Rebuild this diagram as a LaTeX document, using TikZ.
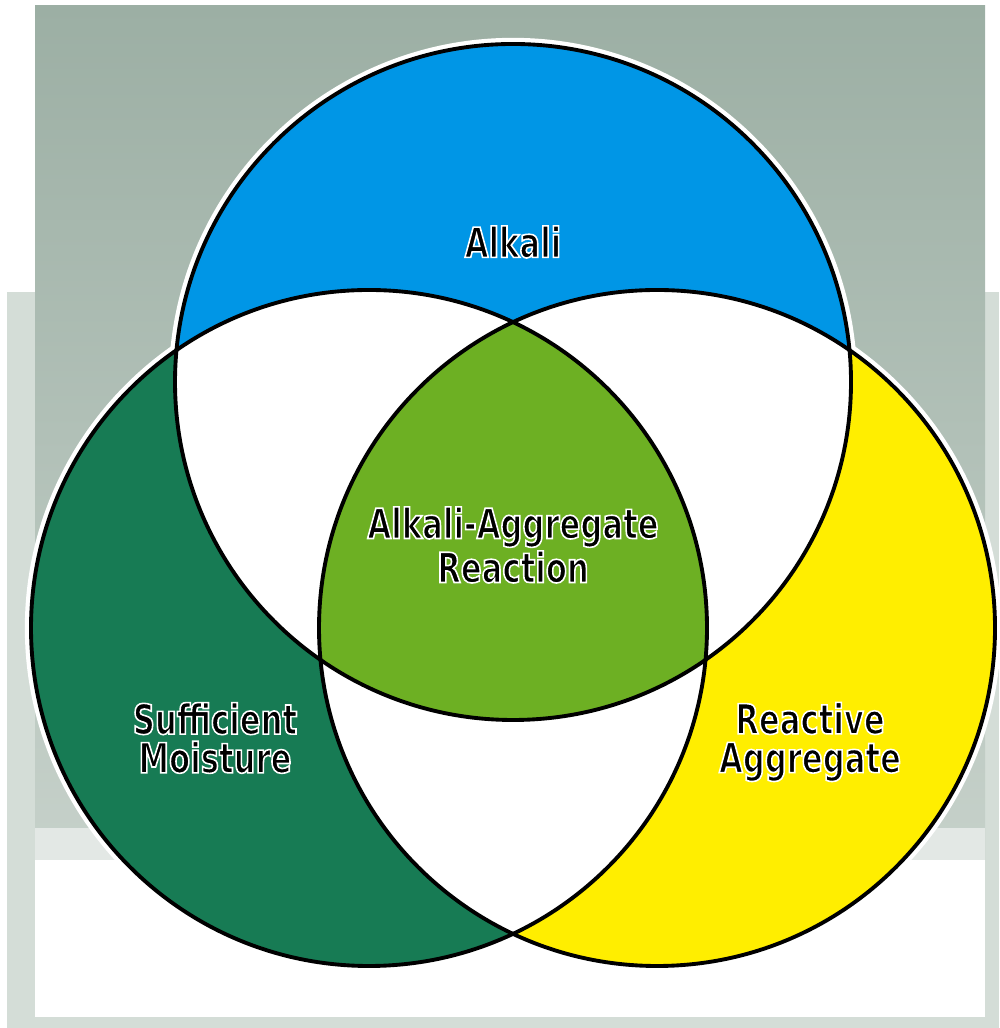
\documentclass[tikz,border=0pt]{standalone}
\usepackage{fontspec}
\setmainfont{DejaVu Sans}[FakeStretch=0.74]
\usepackage{xcolor}
\usetikzlibrary{positioning}
\definecolor{alkblue}{HTML}{0096E6}
\definecolor{moistgreen}{HTML}{177B54}
\definecolor{aggyellow}{HTML}{FFEE00}
\definecolor{coregreen}{HTML}{6DB023}
\definecolor{bgtop}{HTML}{9CAFA4}
\definecolor{bgbot}{HTML}{C6D1CA}
\definecolor{bgside}{HTML}{D4DDD7}
\definecolor{bgband}{HTML}{E3E8E5}
% white outline round the black letters
\newcommand{\halo}[1]{\special{pdf:literal direct 2 Tr 1 1 1 RG 0.45 w}#1\special{pdf:literal direct 0 Tr 0 0 0 RG}}

\begin{document}
\begin{tikzpicture}[
    x=0.01cm, y=0.01cm,
    ring/.style={draw=black, line width=1.1pt},
    glow/.style={draw=white, line width=3.5pt},
    tag/.style={font=\bfseries\fontsize{11.8}{11}\selectfont, align=center, text=black, inner sep=0pt}
]
\useasboundingbox (0,0) rectangle (999,1028);

% Backdrop
\fill[bgside] (7,0) rectangle (999,736);
\shade[top color=bgtop, bottom color=bgbot] (35,168) rectangle (985,1022);
\fill[bgband] (35,168) rectangle (985,200);
\fill[white] (35,11) rectangle (985,168);

% Circles
\coordinate (alk) at (513,646);
\coordinate (moist) at (369,400);
\coordinate (aggr) at (657,400);
\def\rad{338}

\draw[glow] (alk) circle (\rad);
\draw[glow] (moist) circle (\rad);
\draw[glow] (aggr) circle (\rad);

\fill[alkblue] (alk) circle (\rad);
\fill[moistgreen] (moist) circle (\rad);
\fill[aggyellow] (aggr) circle (\rad);

% Overlaps
\begin{scope}
  \clip (alk) circle (\rad);
  \fill[white] (moist) circle (\rad);
  \fill[white] (aggr) circle (\rad);
\end{scope}
\begin{scope}
  \clip (moist) circle (\rad);
  \fill[white] (aggr) circle (\rad);
\end{scope}
\begin{scope}
  \clip (alk) circle (\rad);
  \clip (moist) circle (\rad);
  \fill[coregreen] (aggr) circle (\rad);
\end{scope}

\draw[ring] (alk) circle (\rad);
\draw[ring] (moist) circle (\rad);
\draw[ring] (aggr) circle (\rad);

% Labels
\node[tag] (alkali) at (513,786) {\halo{Alkali}};
\node[tag] (aar) at (513,483) {\halo{Alkali-Aggregate}\\\halo{Reaction}};
\node[tag] (moisture) at (215,290) {\halo{Sufficient}\\\halo{Moisture}};
\node[tag] (reactive) at (810,286) {\halo{Reactive}\\\halo{Aggregate}};

\end{tikzpicture}
\end{document}
